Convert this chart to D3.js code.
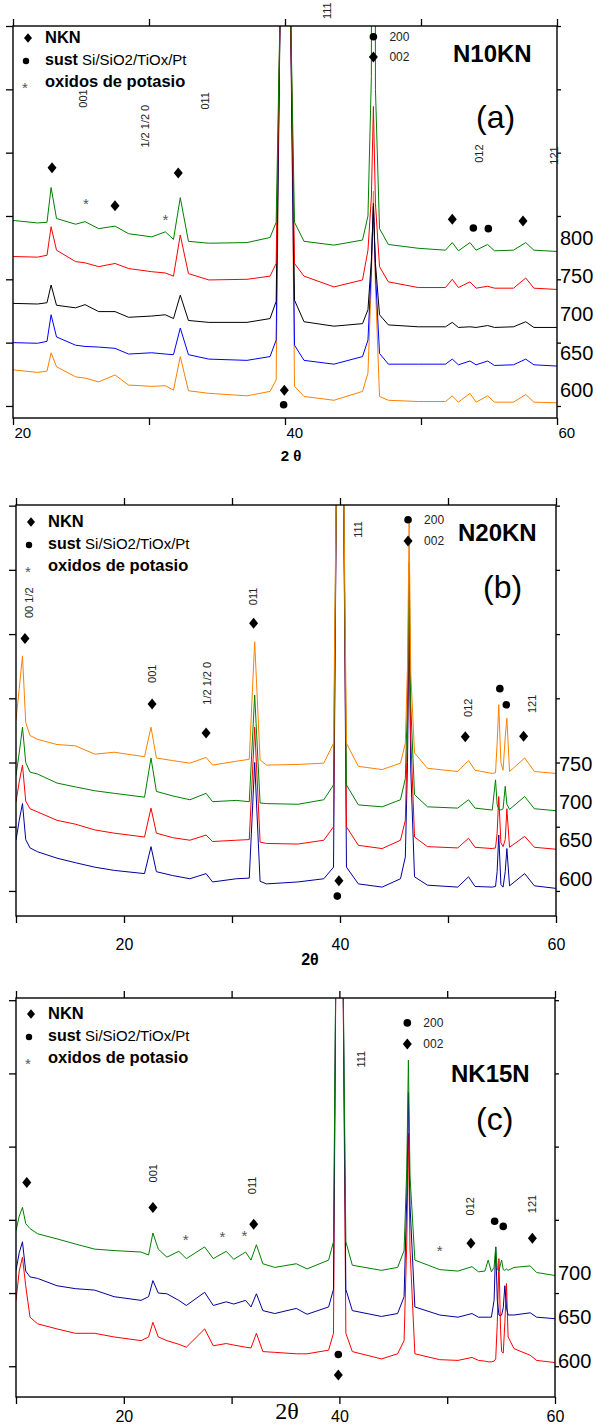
<!DOCTYPE html>
<html>
<head>
<meta charset="utf-8">
<script src="https://cdn.jsdelivr.net/npm/d3@7"></script>
<style>
  body { margin: 0; background: #fff; }
  svg { display: block; font-family: "Liberation Sans", Arial, sans-serif; }
</style>
</head>
<body>
<svg id="chart" width="596" height="1425"></svg>
<script>
// ---- Données (2θ en degrés, intensité en unités arbitraires) ----

// (a) N10KN
const twoThetaA = [20.0, 21.8, 22.5, 22.8, 23.2, 24.6, 25.3, 26.3, 27.5, 28.5, 30.2, 31.2, 31.8, 32.3, 32.9, 34.4, 37.2, 38.9, 39.35, 39.65, 40.0, 40.4, 40.7, 41.4, 43.6, 45.7, 46.1, 46.35, 46.5, 46.65, 46.95, 47.6, 49.8, 51.8, 52.3, 52.75, 53.6, 54.05, 54.9, 55.4, 56.8, 57.7, 58.3, 60.0];
const a800 = [293, 289, 290, 345, 296, 287, 291, 280, 284, 272, 267, 275, 263, 329, 260, 257, 258, 266, 290, 640, 3000, 640, 290, 260, 254, 262, 300, 520, 3000, 500, 280, 255, 249, 246, 258, 245, 258, 246, 255, 245, 246, 258, 246, 244];
const a750 = [236, 235, 238, 283, 246, 228, 226, 220, 225, 217, 212, 210, 205, 270, 209, 199, 200, 205, 225, 640, 3000, 640, 225, 205, 188, 199, 246, 330, 473, 320, 220, 196, 187, 187, 200, 187, 196, 186, 189, 186, 186, 202, 186, 184];
const a700 = [162, 161, 163, 191, 159, 155, 160, 149, 149, 140, 142, 144, 138, 175, 135, 132, 132, 138, 165, 640, 3000, 640, 167, 133, 126, 130, 152, 230, 315, 225, 144, 128, 125, 125, 132, 124, 125, 124, 127, 124, 125, 133, 124, 124];
const a650 = [100, 99, 102, 144, 109, 96, 94, 93, 91, 82, 84, 82, 81, 123, 81, 74, 72, 78, 104, 640, 3000, 640, 96, 72, 66, 78, 104, 220, 320, 210, 83, 66, 66, 66, 74, 65, 71, 65, 71, 64, 65, 74, 65, 63];
const a600 = [57, 53, 55, 84, 62, 46, 44, 38, 49, 33, 31, 32, 25, 78, 24, 20, 16, 23, 41, 640, 3000, 640, 31, 15, 9, 23, 52, 200, 339, 190, 15, 9, 7, 7, 16, 6, 20, 6, 16, 6, 6, 18, 6, 5];

// (b) N20KN
const twoThetaB = [10.0, 10.3, 10.6, 10.9, 11.3, 12.0, 13.8, 15.5, 17.3, 19.1, 21.9, 22.5, 23.0, 24.5, 26.1, 27.6, 28.2, 30.4, 31.6, 32.1, 32.6, 33.2, 36.1, 38.5, 39.4, 39.7, 40.0, 40.3, 40.6, 41.7, 43.9, 45.6, 46.05, 46.25, 46.4, 46.55, 46.9, 48.1, 50.9, 51.9, 52.5, 54.1, 54.4, 54.55, 54.7, 54.9, 55.1, 55.3, 55.45, 55.7, 57.1, 58.0, 60.0];
const b750 = [266, 315, 366, 262, 242, 236, 228, 226, 213, 216, 209, 255, 207, 203, 199, 208, 196, 202, 205, 388, 204, 196, 197, 199, 230, 700, 3000, 700, 230, 194, 189, 199, 230, 350, 575, 340, 215, 191, 186, 203, 188, 183, 184, 230, 290, 200, 188, 240, 269, 186, 207, 186, 183];
const b700 = [180, 215, 255, 200, 185, 182, 168, 162, 156, 152, 146, 207, 155, 148, 142, 152, 139, 141, 139, 305, 137, 136, 135, 142, 165, 700, 3000, 700, 165, 134, 131, 142, 175, 300, 511, 290, 150, 131, 129, 142, 129, 126, 173, 135, 127, 126, 128, 163, 135, 127, 147, 128, 125];
const b650 = [139, 170, 196, 140, 128, 123, 110, 104, 95, 90, 84, 129, 90, 83, 79, 87, 77, 79, 80, 255, 76, 74, 73, 79, 100, 700, 3000, 700, 100, 71, 66, 79, 110, 250, 477, 240, 84, 69, 67, 82, 68, 66, 67, 90, 147, 75, 69, 80, 128, 68, 85, 68, 65];
const b600 = [79, 110, 136, 80, 67, 61, 51, 44, 37, 32, 27, 69, 30, 24, 19, 27, 14, 19, 20, 200, 15, 11, 14, 19, 37, 700, 3000, 700, 37, 11, 6, 19, 53, 200, 419, 190, 22, 9, 6, 22, 7, 6, 7, 30, 87, 10, 6, 30, 66, 8, 27, 8, 4];

// (c) NK15N
const twoThetaC = [10.0, 10.3, 10.6, 10.9, 11.3, 12.0, 13.8, 15.5, 17.3, 19.1, 21.6, 22.3, 22.7, 23.2, 24.0, 25.1, 25.8, 27.5, 28.3, 29.5, 30.2, 31.3, 31.8, 32.3, 32.9, 34.0, 36.0, 37.0, 39.0, 39.45, 39.7, 40.0, 40.3, 40.6, 41.2, 43.9, 45.4, 46.0, 46.25, 46.4, 46.55, 47.0, 49.3, 51.0, 52.3, 52.9, 53.5, 53.8, 54.1, 54.35, 54.5, 54.65, 54.8, 54.95, 55.05, 55.2, 55.35, 55.5, 55.65, 56.2, 57.7, 58.3, 60.0];
const c700 = [185, 205, 217, 195, 188, 181, 174, 167, 160, 158, 156, 152, 182, 160, 149, 157, 147, 163, 147, 157, 146, 156, 145, 166, 140, 135, 140, 133, 145, 170, 600, 3000, 600, 170, 138, 131, 135, 158, 270, 418, 260, 145, 132, 130, 136, 129, 130, 145, 129, 135, 163, 132, 130, 140, 145, 132, 131, 133, 131, 135, 137, 128, 124];
const c650 = [131, 155, 170, 130, 122, 120, 110, 106, 104, 95, 90, 95, 117, 100, 99, 90, 83, 101, 83, 88, 85, 90, 81, 99, 76, 72, 79, 71, 81, 105, 600, 3000, 600, 105, 76, 68, 72, 95, 230, 374, 220, 81, 70, 67, 72, 67, 67, 67, 67, 90, 163, 90, 70, 69, 70, 80, 110, 80, 70, 70, 73, 67, 65];
const c600 = [90, 130, 149, 110, 67, 58, 51, 45, 45, 40, 35, 40, 60, 40, 35, 30, 26, 51, 28, 31, 29, 26, 25, 45, 20, 19, 17, 17, 22, 45, 600, 3000, 600, 45, 20, 10, 17, 35, 170, 318, 160, 17, 9, 8, 12, 8, 7, 6, 6, 7, 10, 60, 147, 50, 20, 18, 60, 113, 40, 24, 15, 8, 5];

// Marqueurs de phases : [type, 2θ, intensité]  d = NKN, c = substrat, s = oxydes de potassium
const markersA = [['d', 22.87, 376], ['s', 25.37, 324], ['d', 27.5, 316], ['s', 31.2, 299], ['d', 32.15, 368],
  ['c', 46.5, 583], ['d', 46.5, 551], ['d', 52.3, 295], ['c', 53.85, 281], ['c', 54.95, 280], ['d', 57.5, 292],
  ['d', 39.95, 25], ['c', 39.9, 2]];
const markersB = [['d', 10.83, 393], ['d', 22.6, 291], ['d', 27.6, 246], ['d', 32.0, 417], ['c', 46.3, 578], ['d', 46.3, 545],
  ['d', 51.6, 240], ['c', 54.8, 315], ['c', 55.4, 290], ['d', 57.0, 241], ['d', 39.9, 16], ['c', 39.75, -8]];
const markersC = [['d', 11.0, 251], ['d', 22.7, 217], ['s', 25.75, 176], ['s', 29.15, 180], ['s', 31.2, 182], ['d', 32.05, 194],
  ['c', 46.3, 469], ['d', 46.3, 440], ['s', 49.3, 161], ['d', 52.2, 168], ['c', 54.4, 198], ['c', 55.2, 191], ['d', 57.9, 175],
  ['c', 39.9, 16], ['d', 39.9, -12]];

// Indices de Miller (texte vertical) : [texte, 2θ, intensité du bas du texte]
const hklA = [['001', 25.15, 471], ['1/2 1/2 0', 29.7, 408], ['011', 34.15, 468], ['111', 43.1, 611], ['012', 54.25, 384], ['121', 59.8, 381]];
const hklB = [['00 1/2', 11.2, 425], ['001', 22.6, 324], ['1/2 1/2 0', 27.7, 290], ['011', 31.95, 445], ['111', 41.7, 550], ['012', 51.85, 271], ['121', 57.8, 277]];
const hklC = [['001', 22.7, 251], ['011', 31.95, 235], ['111', 42.0, 408], ['012', 52.1, 206], ['121', 57.9, 209]];

// Etiquettes 200 / 002 : [texte, 2θ, intensité]
const peakTagsA = [['200', 46.5, 583], ['002', 46.5, 551]];
const peakTagsB = [['200', 46.3, 578], ['002', 46.3, 545]];
const peakTagsC = [['200', 46.3, 469], ['002', 46.3, 440]];

// Paramètres de mise en page de chaque graphique
const panels = [
  {
    twoTheta: twoThetaA,
    series: [
      { name: '800', values: a800, color: '#008000' },
      { name: '750', values: a750, color: '#ff0000' },
      { name: '700', values: a700, color: '#000000' },
      { name: '650', values: a650, color: '#0000ff' },
      { name: '600', values: a600, color: '#ff8000' }
    ],
    markers: markersA, hkl: hklA, tags: peakTagsA,
    sample: 'N10KN', letter: '(a)',
    left: 13, right: 557, top: 26, bottom: 418,
    xDomain: [20, 60], yMin: -19, yMax: 600,
    xLabels: [20, 40, 60], labelAnchor: 'start', labelShift: 1, labelPad: 2, labelSize: 15,
    title: '2 θ', titleX: 291, titleY: 461, titleFont: 'bold 15px "Liberation Sans", Arial, sans-serif',
    tempOffset: -13, legendDy: 0, sampleX: 440, sampleY: 36, letterX: 463, letterY: 102
  },
  {
    twoTheta: twoThetaB,
    series: [
      { name: '750', values: b750, color: '#ff8000' },
      { name: '700', values: b700, color: '#008000' },
      { name: '650', values: b650, color: '#ff0000' },
      { name: '600', values: b600, color: '#0000a0' }
    ],
    markers: markersB, hkl: hklB, tags: peakTagsB,
    sample: 'N20KN', letter: '(b)',
    left: 16, right: 556, top: 505, bottom: 916,
    xDomain: [10, 60], yMin: -39, yMax: 601,
    xLabels: [20, 40, 60], labelAnchor: 'middle', labelShift: 0, labelPad: 16, labelSize: 16,
    title: '2θ', titleX: 310, titleY: 965, titleFont: 'bold 16px "Liberation Sans", Arial, sans-serif',
    tempOffset: -9, legendDy: 5, sampleX: 442, sampleY: 36, letterX: 467, letterY: 93
  },
  {
    twoTheta: twoThetaC,
    series: [
      { name: '700', values: c700, color: '#008000' },
      { name: '650', values: c650, color: '#00009c' },
      { name: '600', values: c600, color: '#ff0000' }
    ],
    markers: markersC, hkl: hklC, tags: peakTagsC,
    sample: 'NK15N', letter: '(c)',
    left: 16, right: 555, top: 998, bottom: 1397,
    xDomain: [10, 60], yMin: -42, yMax: 503,
    xLabels: [20, 40, 60], labelAnchor: 'middle', labelShift: 0, labelPad: 7, labelSize: 16,
    title: '2θ', titleX: 287, titleY: 1419, titleFont: '24px "Liberation Serif", "Times New Roman", serif',
    tempOffset: -2, legendDy: 4, sampleX: 435, sampleY: 84, letterX: 460, letterY: 132
  }
];

const svg = d3.select('#chart');

function diamondPath(cx, cy, w, h) {
  return `M${cx},${cy - h}L${cx + w},${cy}L${cx},${cy + h}L${cx - w},${cy}Z`;
}

function drawMarker(g, type, cx, cy, big) {
  if (type === 'd') {
    g.append('path').attr('d', diamondPath(cx, cy, big ? 4.5 : 4, big ? 5.5 : 4.8)).attr('fill', '#000');
  } else if (type === 'c') {
    g.append('circle').attr('cx', cx).attr('cy', cy).attr('r', big ? 3.8 : 3.2).attr('fill', '#000');
  } else {
    g.append('text').attr('x', cx).attr('y', cy + 8).attr('text-anchor', 'middle')
      .style('font-size', '15px').attr('fill', '#555').text('*');
  }
}

function drawPanel(p, idx) {
  const x = d3.scaleLinear().domain(p.xDomain).range([p.left, p.right]);
  const y = d3.scaleLinear().domain([p.yMin, p.yMax]).range([p.bottom, p.top]);
  const g = svg.append('g');

  const clipId = 'clip' + idx;
  svg.append('clipPath').attr('id', clipId).append('rect')
    .attr('x', p.left).attr('y', p.top)
    .attr('width', p.right - p.left).attr('height', p.bottom - p.top);

  // Courbes (la plus basse d'abord)
  const line = d3.line()
    .x((d, i) => x(p.twoTheta[i]))
    .y(d => y(d));
  g.append('g').attr('clip-path', `url(#${clipId})`)
    .selectAll('path')
    .data(p.series.slice().reverse())
    .join('path')
      .attr('d', d => line(d.values))
      .attr('fill', 'none')
      .attr('stroke', d => d.color)
      .attr('stroke-width', 1)
      .attr('stroke-linejoin', 'round');

  // Axes
  const xTicks = d3.range(p.xDomain[0] === 20 ? 20 : 10, 61, 10).filter(v => v >= p.xDomain[0]);
  const yTicks = d3.range(0, p.yMax + 1, 100);

  const bottomAxis = g.append('g')
    .attr('transform', `translate(0,${p.bottom})`)
    .call(d3.axisBottom(x).tickValues(xTicks).tickSize(7).tickSizeOuter(0).tickPadding(p.labelPad)
      .tickFormat(d => p.xLabels.includes(d) ? d : ''));
  bottomAxis.select('.domain').remove();
  bottomAxis.selectAll('text')
    .attr('text-anchor', p.labelAnchor)
    .attr('dx', p.labelShift)
    .style('font-size', p.labelSize + 'px')
    .style('font-family', '"Liberation Sans", Arial, sans-serif')
    .attr('fill', '#000');

  const topAxis = g.append('g')
    .attr('transform', `translate(0,${p.top})`)
    .call(d3.axisTop(x).tickValues(xTicks).tickSize(7).tickSizeOuter(0).tickFormat(''));
  topAxis.select('.domain').remove();

  const leftAxis = g.append('g')
    .attr('transform', `translate(${p.left},0)`)
    .call(d3.axisLeft(y).tickValues(yTicks).tickSize(7).tickSizeOuter(0).tickFormat(''));
  leftAxis.select('.domain').remove();

  const rightAxis = g.append('g')
    .attr('transform', `translate(${p.right},0)`)
    .call(d3.axisRight(y).tickValues(yTicks).tickSize(4).tickSizeOuter(0).tickFormat(''));
  rightAxis.select('.domain').remove();

  g.selectAll('.tick line').attr('stroke', '#000').attr('stroke-width', 1.3);

  // Cadre
  g.append('rect')
    .attr('x', p.left).attr('y', p.top)
    .attr('width', p.right - p.left).attr('height', p.bottom - p.top)
    .attr('fill', 'none').attr('stroke', '#000').attr('stroke-width', 1.4);

  // Titre de l'axe x
  g.append('text')
    .attr('x', p.titleX).attr('y', p.titleY)
    .attr('text-anchor', 'middle')
    .style('font', p.titleFont)
    .text(p.title);

  // Températures
  g.selectAll('text.temp')
    .data(p.series)
    .join('text')
      .attr('class', 'temp')
      .attr('x', p.right + 3)
      .attr('y', d => y(d.values[d.values.length - 1]) + p.tempOffset)
      .attr('dy', '0.35em')
      .style('font-size', '20px')
      .text(d => d.name);

  // Marqueurs de phases
  const mg = g.append('g');
  p.markers.forEach(m => drawMarker(mg, m[0], x(m[1]), y(m[2]), true));

  // Indices de Miller
  g.selectAll('text.hkl')
    .data(p.hkl)
    .join('text')
      .attr('class', 'hkl')
      .attr('transform', d => `translate(${x(d[1])},${y(d[2])}) rotate(-90)`)
      .attr('dy', '0.35em')
      .style('font-size', '11px')
      .attr('fill', '#222')
      .text(d => d[0]);

  g.selectAll('text.tag')
    .data(p.tags)
    .join('text')
      .attr('class', 'tag')
      .attr('x', d => x(d[1]) + 16)
      .attr('y', d => y(d[2]))
      .attr('dy', '0.35em')
      .style('font-size', '12px')
      .attr('fill', '#222')
      .text(d => d[0]);

  // Nom de l'échantillon et lettre
  g.append('text')
    .attr('x', p.left + p.sampleX).attr('y', p.top + p.sampleY)
    .style('font', 'bold 24px "Liberation Sans", Arial, sans-serif')
    .text(p.sample);
  g.append('text')
    .attr('x', p.left + p.letterX).attr('y', p.top + p.letterY)
    .style('font-size', '32px')
    .text(p.letter);

  // Légende
  const lg = g.append('g').attr('transform', `translate(${p.left},${p.top + p.legendDy})`);
  drawMarker(lg, 'd', 15, 12, false);
  lg.append('text').attr('x', 32).attr('y', 17)
    .style('font', 'bold 16.5px "Liberation Sans", Arial, sans-serif').text('NKN');
  drawMarker(lg, 'c', 13, 35, false);
  const t2 = lg.append('text').attr('x', 32).attr('y', 39);
  t2.append('tspan').style('font', 'bold 16px "Liberation Sans", Arial, sans-serif').text('sust');
  t2.append('tspan').style('font', '15px "Liberation Sans", Arial, sans-serif').text(' Si/SiO2/TiOx/Pt');
  drawMarker(lg, 's', 12, 59, false);
  lg.append('text').attr('x', 32).attr('y', 61)
    .style('font', 'bold 16.5px "Liberation Sans", Arial, sans-serif').text('oxidos de potasio');
}

panels.forEach(drawPanel);
</script>
</body>
</html>
